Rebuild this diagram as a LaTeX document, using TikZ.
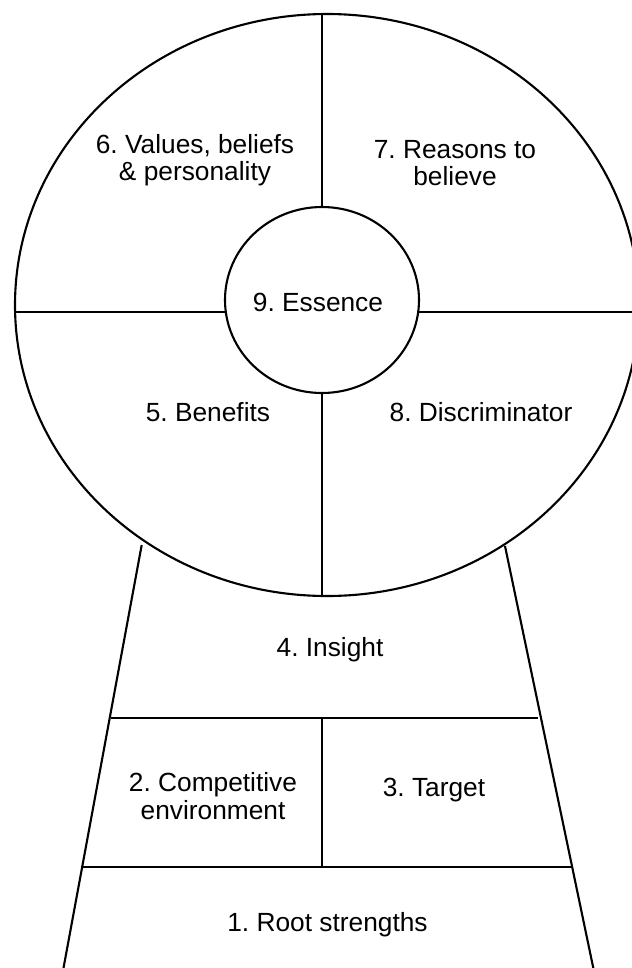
\documentclass[tikz,border=0pt]{standalone}
\usepackage{fontspec}
\setmainfont{Liberation Sans}
\usetikzlibrary{positioning}
\frenchspacing

\begin{document}
\begin{tikzpicture}[
		x=0.025cm, y=-0.025cm,
		outline/.style={draw=black, line width=1.5pt},
		label/.style={align=center, inner sep=0pt, font=\fontsize{18.7}{19.4}\selectfont}
		]
		
		\useasboundingbox (0,0) rectangle (632,968);
		\clip (0,0) rectangle (632,968);
		
		% Wheel: outer ellipse and the core
		\draw[outline] (327,305) ellipse [x radius=312, y radius=291];
		\draw[outline] (322,300) ellipse [x radius=97, y radius=93];
		
		% Spokes of the wheel
		\draw[outline] (322,13) -- (322,207);
		\draw[outline] (322,393) -- (322,596);
		\draw[outline] (14.5,312) -- (225.8,312);
		\draw[outline] (418.2,312) -- (640,312);
		
		% Stem below the wheel
		\draw[outline] (141.7,545) -- (63.5,968);
		\draw[outline] (505,546) -- (593.3,968);
		\draw[outline] (111,718) -- (537.5,718);
		\draw[outline] (80.6,867) -- (572.6,867);
		\draw[outline] (322,718) -- (322,867);
		
		% Wheel segments
		\node[label] (values) at (195,160) {6. Values, beliefs\\\& personality};
		\node[label] (reasons) at (455,163) {7. Reasons to\\believe};
		\node[label] (essence) at (318,302) {9. Essence};
		\node[label] (benefits) at (208,412) {5. Benefits};
		\node[label] (discrim) at (481,412) {8. Discriminator};
		
		% Stem segments
		\node[label] (insight) at (330,650) {4. Insight};
		\node[label] (compet) at (213,796) {2. Competitive\\environment};
		\node[label] (target) at (434,790) {3. Target};
		\node[label] (roots) at (327.5,925) {1. Root strengths};
		
	\end{tikzpicture}
\end{document}
